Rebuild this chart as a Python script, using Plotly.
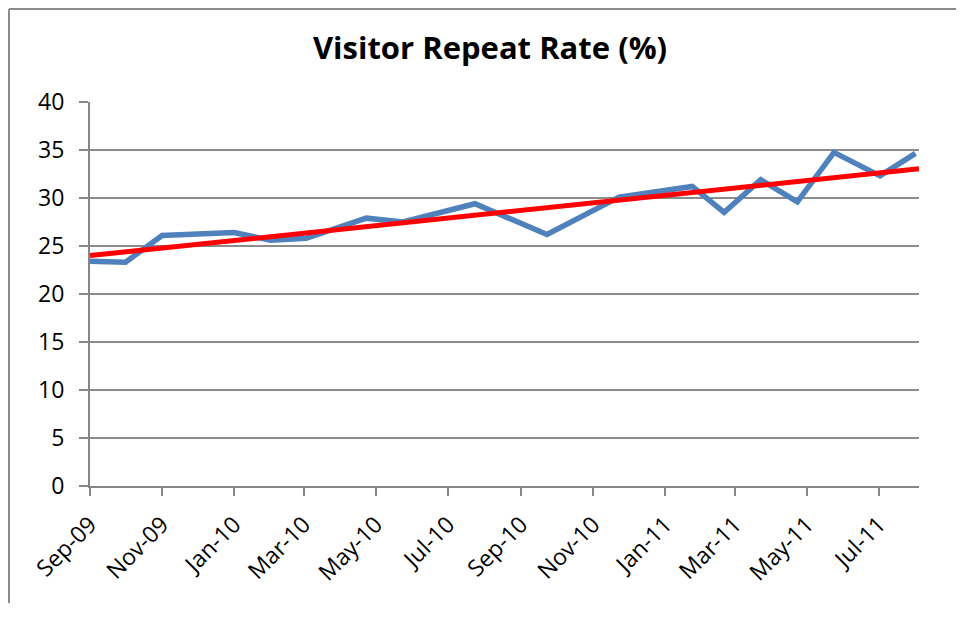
import plotly.graph_objects as go

# Visitor repeat rate, dates
dates = [
    "2009-09-01", "2009-10-01", "2009-11-01", "2009-12-01", "2010-01-01",
    "2010-02-01", "2010-03-03", "2010-04-23", "2010-05-24", "2010-07-24",
    "2010-09-23", "2010-11-23", "2011-01-24", "2011-02-20", "2011-03-23",
    "2011-04-23", "2011-05-24", "2011-07-02", "2011-08-01",
]
repeat_rate = [
    23.4, 23.3, 26.1, 26.25, 26.4,
    25.6, 25.8, 27.9, 27.5, 29.4,
    26.2, 30.1, 31.2, 28.5, 31.9,
    29.6, 34.75, 32.3, 34.65,
]

# linear trendline endpoints
trend_dates = ["2009-09-01", "2011-08-04"]
trend_values = [24.0, 33.05]

y_ticks = [0, 5, 10, 15, 20, 25, 30, 35, 40]

# page body has an 8px margin, so the figure is sized to fit inside it
W, H = 949, 596
L, R, T, B = 82, 38, 94, 118
plot_w = W - L - R
plot_h = H - T - B

fig = go.Figure()
fig.add_trace(go.Scatter(
    x=dates, y=repeat_rate, mode="lines",
    line=dict(color="#4F81BD", width=5.5),
    hoverinfo="x+y",
))
fig.add_trace(go.Scatter(
    x=trend_dates, y=trend_values, mode="lines",
    line=dict(color="#FF0000", width=5),
    hoverinfo="skip",
))

# chart-area frame: only the left and top edges fall inside the window
x_left = -(L - 1) / plot_w
x_right = 1 + (R - 1) / plot_w
y_top = 1 + (T - 1) / plot_h
y_bottom = -(B - 1) / plot_h
frame = dict(color="#8c8c8c", width=2)

fig.update_layout(
    width=W, height=H,
    paper_bgcolor="white", plot_bgcolor="white",
    showlegend=False,
    margin=dict(l=L, r=R, t=T, b=B),
    font=dict(family="Open Sans, sans-serif", size=20, color="black"),
    title=dict(
        text="<b>Visitor Repeat Rate (%)</b>",
        x=482 / W, xanchor="center", y=1 - 40 / H, yanchor="middle",
        font=dict(size=31, color="black"),
    ),
    xaxis=dict(
        type="date",
        range=["2009-09-01", "2011-08-04"],
        tick0="2009-09-01", dtick="M2", tickformat="%b-%y",
        tickangle=-45,
        showgrid=False, zeroline=False,
        showline=True, linecolor="#868686", linewidth=2,
        ticks="outside", ticklen=8, tickcolor="#868686", tickwidth=2,
        ticklabelstandoff=6,
        tickfont=dict(size=23),
    ),
    yaxis=dict(
        range=[0, 40], tickvals=y_ticks,
        showgrid=True, gridcolor="#8c8c8c", gridwidth=2,
        zeroline=False,
        showline=True, linecolor="#868686", linewidth=2,
        ticks="outside", ticklen=9, tickcolor="#868686", tickwidth=2,
        ticklabelstandoff=10,
        tickfont=dict(size=23),
    ),
    shapes=[
        dict(type="line", xref="paper", yref="paper",
             x0=x_left, x1=x_left, y0=y_bottom, y1=y_top, line=frame),
        dict(type="line", xref="paper", yref="paper",
             x0=x_left, x1=x_right, y0=y_top, y1=y_top, line=frame),
    ],
)

fig.write_html("out.html")
